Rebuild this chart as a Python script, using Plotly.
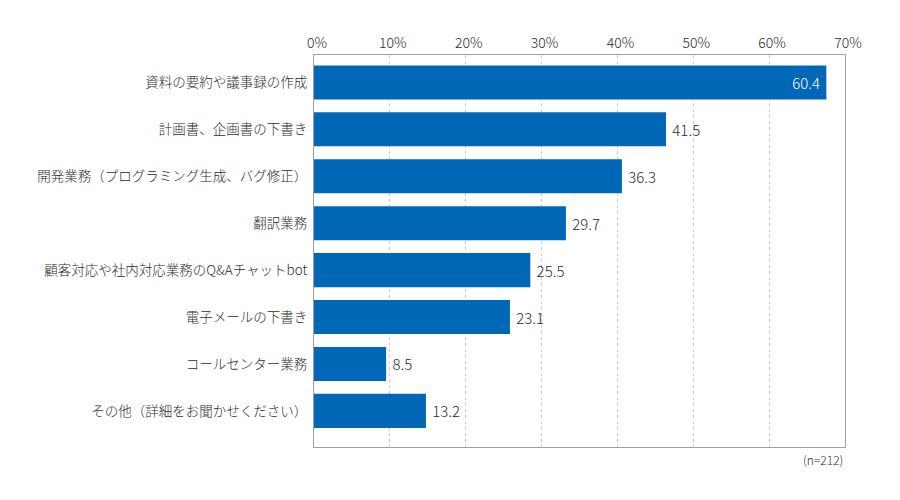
import plotly.graph_objects as go

# 生成AIの活用業務（n=212）
categories = [
    "資料の要約や議事録の作成",
    "計画書、企画書の下書き",
    "開発業務（プログラミング生成、バグ修正）",
    "翻訳業務",
    "顧客対応や社内対応業務のQ&Aチャットbot",
    "電子メールの下書き",
    "コールセンター業務",
    "その他（詳細をお聞かせください）",
]
values = [60.4, 41.5, 36.3, 29.7, 25.5, 23.1, 8.5, 13.2]
tick_values = [0, 10, 20, 30, 40, 50, 60, 70]
tick_labels = ["0%", "10%", "20%", "30%", "40%", "50%", "60%", "70%"]
text_positions = ["inside"] + ["outside"] * (len(values) - 1)

FONT = "Noto Sans CJK JP"
BAR_COLOR = "#0068b7"
TEXT_COLOR = "#2b2b2b"
FRAME_COLOR = "#a0a0a0"

fig = go.Figure()

# 目盛用の空トレース（x軸を有効にするだけ）
fig.add_trace(go.Scatter(
    x=[tick_values[0], tick_values[-1]],
    y=[categories[0], categories[0]],
    mode="none",
    xaxis="x",
    yaxis="y",
    hoverinfo="skip",
    showlegend=False,
))

# バーは別の横軸(x2)に描く。元の図では目盛とバーの縮尺がずれているため
fig.add_trace(go.Bar(
    x=values,
    y=categories,
    orientation="h",
    xaxis="x2",
    yaxis="y",
    marker=dict(color=BAR_COLOR, line=dict(width=0)),
    width=0.725,
    texttemplate="\u00a0%{x:.1f}\u00a0",
    textposition=text_positions,
    insidetextanchor="end",
    insidetextfont=dict(family=FONT, size=15, color="white", weight=300),
    outsidetextfont=dict(family=FONT, size=15, color=TEXT_COLOR, weight=300),
    cliponaxis=False,
    hoverinfo="skip",
    showlegend=False,
))

# ページ余白(8px)の分だけ左・上を詰める
fig.update_layout(
    width=900,
    height=500,
    margin=dict(l=306, r=63, t=47, b=61, autoexpand=False),
    paper_bgcolor="white",
    plot_bgcolor="white",
    font=dict(family=FONT, size=13.5, color=TEXT_COLOR, weight=300),
    showlegend=False,
    xaxis=dict(
        range=[0, 70],
        side="top",
        tickvals=tick_values,
        ticktext=tick_labels,
        tickfont=dict(family=FONT, size=14, color=TEXT_COLOR, weight=300),
        ticklabelshift=3,
        ticks="",
        showgrid=True,
        gridcolor="#cccccc",
        griddash="dot",
        gridwidth=1,
        zeroline=False,
        showline=True,
        mirror=True,
        linecolor=FRAME_COLOR,
        linewidth=1,
        fixedrange=True,
        automargin=False,
    ),
    xaxis2=dict(
        overlaying="x",
        range=[0, 62.6],
        visible=False,
        fixedrange=True,
    ),
    yaxis=dict(
        type="category",
        categoryorder="array",
        categoryarray=categories,
        range=[7.77, -0.585],
        tickfont=dict(family=FONT, size=13.5, color=TEXT_COLOR, weight=300),
        ticks="",
        ticklabelstandoff=3,
        showgrid=False,
        zeroline=False,
        showline=True,
        mirror=True,
        linecolor=FRAME_COLOR,
        linewidth=1,
        fixedrange=True,
        automargin=False,
    ),
    annotations=[
        dict(
            text="(n=212)",
            xref="paper", yref="paper",
            x=1, y=0,
            xanchor="right", yanchor="top",
            yshift=-2,
            showarrow=False,
            font=dict(family=FONT, size=12, color=TEXT_COLOR, weight=300),
        )
    ],
)

fig.write_html("out.html")
